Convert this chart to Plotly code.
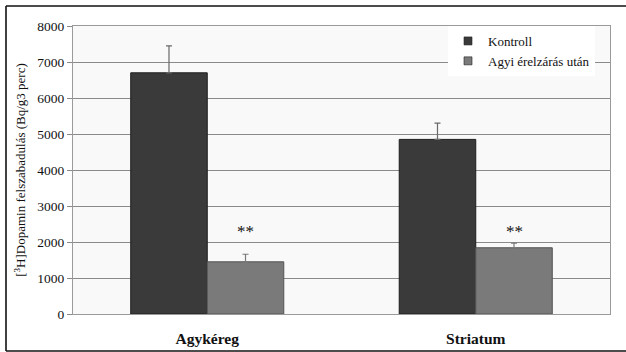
import plotly.graph_objects as go

# Dopamine release per region, control vs. after cerebral artery occlusion
regions = ["Agykéreg", "Striatum"]
control_vals = [6700, 4850]
control_err = [750, 450]
occl_vals = [1450, 1840]
occl_err = [210, 130]
sig_labels = ["**", "**"]
sig_level = 2280

series_names = ["Kontroll", "Agyi érelzárás után"]
series_colors = ["#3a3a3a", "#7a7a7a"]
y_ticks = [0, 1000, 2000, 3000, 4000, 5000, 6000, 7000, 8000]

W, H = 626, 352
M = dict(l=73, r=16, t=26, b=38)
BARGAP = 0.43
SERIF = "Liberation Serif"

fig = go.Figure()
fig.add_trace(go.Bar(
    x=regions, y=control_vals, name=series_names[0], showlegend=False,
    legendgroup="a",
    marker=dict(color=series_colors[0], line=dict(color="#1e1e1e", width=1)),
    error_y=dict(type="data", array=control_err, arrayminus=[0, 0],
                 symmetric=False, color="#6a6a6a", thickness=1.2, width=3),
))
fig.add_trace(go.Bar(
    x=regions, y=occl_vals, name=series_names[1], showlegend=False,
    legendgroup="b",
    marker=dict(color=series_colors[1], line=dict(color="#555555", width=1)),
    error_y=dict(type="data", array=occl_err, arrayminus=[0, 0],
                 symmetric=False, color="#7a7a7a", thickness=1.2, width=3),
))
# compact square swatches for the legend
for name, col, grp in zip(series_names, series_colors, ["a", "b"]):
    fig.add_trace(go.Scatter(
        x=[None], y=[None], mode="markers", name=name, legendgroup=grp,
        marker=dict(symbol="square", size=8, color=col,
                    line=dict(color="#222222", width=0.6)),
    ))

# significance marks above the second bar of each group
offset = (1 - BARGAP) / 4
for i, lab in enumerate(sig_labels):
    fig.add_annotation(x=i + offset, y=sig_level, xref="x", yref="y",
                       text=lab, showarrow=False,
                       font=dict(family=SERIF, size=17, color="#111111"))

# outer frame around the whole figure
pw = W - M["l"] - M["r"]
ph = H - M["t"] - M["b"]
def px_x(px):
    return (px - M["l"]) / pw
def px_y(py):
    return (H - M["b"] - py) / ph
frame = dict(type="line", xref="paper", yref="paper",
             line=dict(color="#111111", width=1.6))
fig.add_shape(**frame, x0=px_x(6), x1=px_x(6), y0=px_y(6), y1=px_y(351))
fig.add_shape(**frame, x0=px_x(6), x1=px_x(640), y0=px_y(6), y1=px_y(6))
fig.add_shape(**frame, x0=px_x(6), x1=px_x(640), y0=px_y(351), y1=px_y(351))

fig.update_layout(
    width=W, height=H, margin=M,
    paper_bgcolor="white", plot_bgcolor="#f9f9f9",
    barmode="group", bargap=BARGAP, bargroupgap=0,
    font=dict(family=SERIF, size=13, color="#111111"),
    showlegend=True,
    legend=dict(x=px_x(448), y=1, xanchor="left", yanchor="top",
                bgcolor="white", borderwidth=0,
                font=dict(family=SERIF, size=13, color="#111111"),
                tracegroupgap=0, itemwidth=30),
    xaxis=dict(showgrid=False, showline=True, linecolor="#9a9a9a", linewidth=1,
               mirror=True, ticks="", ticklabelstandoff=10, automargin=False,
               tickfont=dict(family=SERIF, size=15.5, color="#111111",
                             weight="bold")),
    yaxis=dict(range=[0, 8000], tickvals=y_ticks, showgrid=True,
               gridcolor="#8a8a8a", gridwidth=1, zeroline=False,
               showline=True, linecolor="#9a9a9a", linewidth=1, mirror=True,
               ticks="outside", ticklen=5, tickcolor="#8a8a8a", automargin=False,
               tickfont=dict(family=SERIF, size=13.5, color="#111111"),
               title=dict(text="[<sup>3</sup>H]Dopamin felszabadulás (Bq/g3 perc)",
                          font=dict(family=SERIF, size=13, color="#111111"),
                          standoff=8)),
)

fig.write_html("out.html")
